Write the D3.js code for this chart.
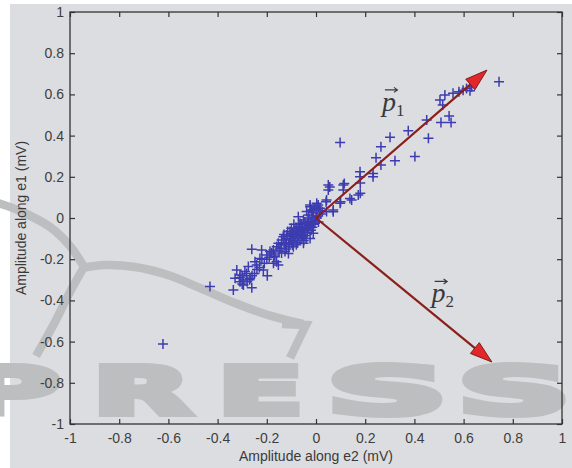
<!DOCTYPE html>
<html>
<head>
<meta charset="utf-8">
<script src="https://cdn.jsdelivr.net/npm/d3@7/dist/d3.min.js"></script>
<style>
body { margin: 0; background: #ffffff; }
text { font-family: "Liberation Sans", Arial, sans-serif; }
</style>
</head>
<body>
<div id="chart"></div>
<script>
// tick values and their labels
var tickValues = [-1, -0.8, -0.6, -0.4, -0.2, 0, 0.2, 0.4, 0.6, 0.8, 1];
var tickLabels = ["-1", "-0.8", "-0.6", "-0.4", "-0.2", "0", "0.2", "0.4", "0.6", "0.8", "1"];

// [amplitude along e2, amplitude along e1]
var upperPoints = [
  [0.744, 0.662], [0.098, 0.367], [0.402, 0.298], [0.457, 0.387], [0.321, 0.278],
  [0.375, 0.424], [0.301, 0.392], [0.264, 0.346], [0.244, 0.293], [0.264, 0.257],
  [0.450, 0.476], [0.508, 0.463], [0.541, 0.495], [0.549, 0.463], [0.515, 0.549],
  [0.504, 0.573], [0.524, 0.597], [0.557, 0.605], [0.581, 0.613], [0.612, 0.629],
  [0.633, 0.637], [0.626, 0.618], [0.598, 0.620], [0.179, 0.225], [0.179, 0.200],
  [0.232, 0.200], [0.232, 0.216], [0.050, 0.160], [0.050, 0.136], [0.111, 0.160],
  [0.111, 0.136], [0.172, 0.112], [0.138, 0.095], [0.098, 0.071], [0.043, 0.087],
  [-0.024, 0.055], [0.003, 0.055], [0.180, 0.170], [0.145, 0.087], [0.180, 0.120],
  [0.100, 0.079], [0.041, 0.079], [0.070, 0.030], [0.026, 0.030], [0.070, 0.039],
  [0.043, 0.031], [0.016, 0.047], [-0.011, 0.039], [-0.038, 0.031], [-0.024, 0.063],
  [0.003, 0.071], [0.115, 0.168], [0.056, 0.150]
];

var lowerPoints = [
  [-0.622, -0.612], [-0.431, -0.333], [-0.336, -0.350], [-0.261, -0.338], [-0.322, -0.252],
  [-0.329, -0.293], [-0.309, -0.277], [-0.295, -0.301], [-0.282, -0.269], [-0.275, -0.236],
  [-0.268, -0.293], [-0.295, -0.325], [-0.309, -0.309], [-0.289, -0.260], [-0.261, -0.152],
  [-0.221, -0.155], [-0.214, -0.252], [-0.198, -0.280], [-0.241, -0.228], [-0.248, -0.212],
  [-0.228, -0.196], [-0.200, -0.180], [-0.187, -0.163], [-0.173, -0.155], [-0.160, -0.212],
  [-0.167, -0.188], [-0.153, -0.123], [-0.146, -0.147], [-0.140, -0.107], [-0.133, -0.091],
  [-0.119, -0.083], [-0.106, -0.066], [-0.112, -0.123], [-0.126, -0.163], [-0.106, -0.107],
  [-0.092, -0.074], [-0.079, -0.050], [-0.072, 0.006], [-0.065, -0.026], [-0.051, -0.010],
  [-0.045, -0.058], [-0.058, -0.091], [-0.038, -0.042], [-0.031, 0.015], [-0.024, -0.018],
  [-0.018, 0.039], [-0.011, -0.074], [-0.004, 0.047], [0.003, 0.006], [0.009, 0.063],
  [-0.004, -0.026], [-0.024, -0.099], [-0.051, -0.123], [-0.092, -0.139], [-0.112, -0.172],
  [-0.153, -0.228], [-0.173, -0.220]
];

var corePoints = [
  [-0.120, -0.100], [-0.100, -0.090], [-0.090, -0.110], [-0.080, -0.080], [-0.070, -0.090],
  [-0.060, -0.060], [-0.050, -0.070], [-0.040, -0.040], [-0.030, -0.050], [-0.020, -0.020],
  [-0.010, -0.030], [0.000, 0.000], [-0.085, -0.060], [-0.075, -0.120], [-0.065, -0.100],
  [-0.055, -0.085], [-0.045, -0.020], [-0.035, -0.070], [-0.025, -0.040], [-0.015, 0.010],
  [-0.005, -0.010], [-0.110, -0.140], [-0.100, -0.120], [-0.095, -0.075], [-0.130, -0.120],
  [-0.140, -0.130], [-0.150, -0.160], [-0.160, -0.140], [-0.170, -0.180], [-0.180, -0.170],
  [-0.190, -0.190], [-0.200, -0.200], [-0.210, -0.220], [-0.220, -0.200], [-0.230, -0.240],
  [-0.240, -0.250], [-0.250, -0.270], [-0.260, -0.280], [-0.270, -0.300], [-0.280, -0.310],
  [-0.300, -0.320], [-0.310, -0.290], [-0.300, -0.280], [-0.060, -0.030], [-0.040, -0.100],
  [-0.020, -0.060], [0.010, -0.020], [0.020, 0.020], [-0.100, -0.050], [-0.080, -0.130],
  [-0.070, -0.040], [-0.050, -0.110], [-0.130, -0.080], [-0.115, -0.065], [-0.030, 0.000],
  [-0.010, 0.025], [0.015, 0.035], [-0.120, -0.150], [-0.140, -0.170], [-0.090, -0.030],
  [-0.085, -0.100], [-0.065, -0.070], [-0.045, -0.085], [-0.035, -0.025], [-0.105, -0.100],
  [-0.075, -0.065], [-0.055, -0.045], [-0.015, -0.045], [-0.125, -0.130], [-0.095, -0.130]
];

// principal directions
var vectors = [
  { name: "1", dir: [0.695, 0.718], label: [0.268, 0.52] },
  { name: "2", dir: [0.715, -0.699], label: [0.47, -0.41] }
];

var W = 572, H = 468;
var margin = { top: 12, right: 10, bottom: 44, left: 70 };

var svg = d3.select("#chart").append("svg")
  .attr("width", W)
  .attr("height", H);

// grey page background
svg.append("rect")
  .attr("x", 10).attr("y", 4)
  .attr("width", W - 10).attr("height", H - 4)
  .attr("fill", "#dcdde0");

// watermark behind the figure
var wmColor = "#bdbec0";
var wm = svg.append("g").attr("class", "watermark");
var swoosh = d3.line().curve(d3.curveCatmullRom);
var strokes = [
  [[-5, 202], [20, 211], [50, 227], [70, 246], [84, 267]],
  [[82, 268], [105, 265], [135, 267], [168, 275], [200, 288], [235, 303], [268, 315], [303, 324]],
  [[84, 267], [70, 292], [55, 322], [36, 356]]
];
strokes.forEach(function (s) {
  wm.append("path")
    .attr("d", swoosh(s))
    .attr("fill", "none").attr("stroke", wmColor).attr("stroke-width", 8.5);
});
wm.append("path")
  .attr("d", "M282,324L306,325L290,358")
  .attr("fill", "none").attr("stroke", wmColor).attr("stroke-width", 8.5);

var letters = [
  { ch: "P", x0: -40, x1: 60 },
  { ch: "R", x0: 93, x1: 191 },
  { ch: "E", x0: 218, x1: 303 },
  { ch: "S", x0: 327, x1: 447 },
  { ch: "S", x0: 458, x1: 570 }
];
wm.selectAll("text")
  .data(letters)
  .enter().append("text")
  .attr("x", function (d) { return d.x0; })
  .attr("y", 414)
  .attr("textLength", function (d) { return d.x1 - d.x0; })
  .attr("lengthAdjust", "spacingAndGlyphs")
  .style("font-family", "'DejaVu Sans', sans-serif")
  .style("font-weight", "bold")
  .style("font-size", "66px")
  .attr("fill", wmColor)
  .attr("stroke", wmColor)
  .attr("stroke-width", 6)
  .attr("stroke-linejoin", "miter")
  .text(function (d) { return d.ch; });

var x = d3.scaleLinear().domain([-1, 1]).range([margin.left, W - margin.right]);
var y = d3.scaleLinear().domain([-1, 1]).range([H - margin.bottom, margin.top]);

var fmt = function (d) { return tickLabels[tickValues.indexOf(d)]; };

var axisColor = "#333333";
function styleAxis(g) {
  g.select(".domain").remove();
  g.selectAll(".tick line").attr("stroke", axisColor).attr("stroke-width", 1.2);
  g.selectAll(".tick text").attr("fill", "#3e3e3e").style("font-size", "14px");
}

svg.append("g")
  .attr("transform", "translate(0," + y(-1) + ")")
  .call(d3.axisBottom(x).tickValues(tickValues).tickFormat(fmt).tickSizeInner(-5).tickSizeOuter(0).tickPadding(9))
  .call(styleAxis);
svg.append("g")
  .attr("transform", "translate(" + x(-1) + ",0)")
  .call(d3.axisLeft(y).tickValues(tickValues).tickFormat(fmt).tickSizeInner(-5).tickSizeOuter(0).tickPadding(6))
  .call(styleAxis);
svg.append("g")
  .attr("transform", "translate(0," + y(1) + ")")
  .call(d3.axisTop(x).tickValues(tickValues).tickFormat("").tickSizeInner(-5).tickSizeOuter(0))
  .call(styleAxis);
svg.append("g")
  .attr("transform", "translate(" + x(1) + ",0)")
  .call(d3.axisRight(y).tickValues(tickValues).tickFormat("").tickSizeInner(-5).tickSizeOuter(0))
  .call(styleAxis);

// box
svg.append("rect")
  .attr("x", x(-1)).attr("y", y(1))
  .attr("width", x(1) - x(-1)).attr("height", y(-1) - y(1))
  .attr("fill", "none").attr("stroke", axisColor).attr("stroke-width", 1.3);

// axis titles
svg.append("text")
  .attr("x", x(0)).attr("y", 461)
  .attr("text-anchor", "middle")
  .attr("fill", "#3a3a3a")
  .style("font-size", "14px")
  .text("Amplitude along e2 (mV)");
svg.append("text")
  .attr("transform", "translate(26," + y(0) + ") rotate(-90)")
  .attr("text-anchor", "middle")
  .attr("fill", "#3a3a3a")
  .style("font-size", "14px")
  .text("Amplitude along e1 (mV)");

// scatter of '+' markers
var allPoints = upperPoints.concat(lowerPoints, corePoints);
svg.append("g").attr("class", "points")
  .selectAll("path")
  .data(allPoints)
  .enter().append("path")
  .attr("transform", function (d) { return "translate(" + x(d[0]) + "," + y(d[1]) + ")"; })
  .attr("d", "M-5,0H5M0,-5V5")
  .attr("stroke", "#3c3cb0")
  .attr("stroke-width", 1.5)
  .attr("fill", "none");

// principal vectors
var vg = svg.append("g").attr("class", "vectors");
vectors.forEach(function (v) {
  var ox = x(0), oy = y(0);
  var tx = x(v.dir[0]), ty = y(v.dir[1]);
  var len = Math.sqrt((tx - ox) * (tx - ox) + (ty - oy) * (ty - oy));
  var ux = (tx - ox) / len, uy = (ty - oy) / len;
  var L = 22, hw = 7;
  var bx = tx - ux * L, by = ty - uy * L;
  vg.append("line")
    .attr("x1", ox).attr("y1", oy).attr("x2", bx + ux * 2).attr("y2", by + uy * 2)
    .attr("stroke", "#8a1f1c").attr("stroke-width", 2.2);
  vg.append("path")
    .attr("d", "M" + tx + "," + ty +
      "L" + (bx - uy * hw) + "," + (by + ux * hw) +
      "L" + (bx + uy * hw) + "," + (by - ux * hw) + "Z")
    .attr("fill", "#e3262a")
    .attr("stroke", "#7d1c1a")
    .attr("stroke-width", 1);

  // label with overhead arrow
  var lx = x(v.label[0]), ly = y(v.label[1]);
  var t = vg.append("text")
    .attr("x", lx).attr("y", ly)
    .attr("fill", "#3a3a3a")
    .style("font-family", "'Liberation Serif', 'DejaVu Serif', serif");
  t.append("tspan").style("font-style", "italic").style("font-size", "28px").text("p");
  t.append("tspan").attr("dy", 5).style("font-size", "17px").text(v.name);
  var ay = ly - 21;
  vg.append("path")
    .attr("d", "M" + (lx + 3) + "," + ay + "H" + (lx + 15) +
      "M" + (lx + 12) + "," + (ay - 2.5) + "L" + (lx + 15.5) + "," + ay + "L" + (lx + 12) + "," + (ay + 2.5))
    .attr("fill", "none").attr("stroke", "#3a3a3a").attr("stroke-width", 1.2);
});
</script>
</body>
</html>
